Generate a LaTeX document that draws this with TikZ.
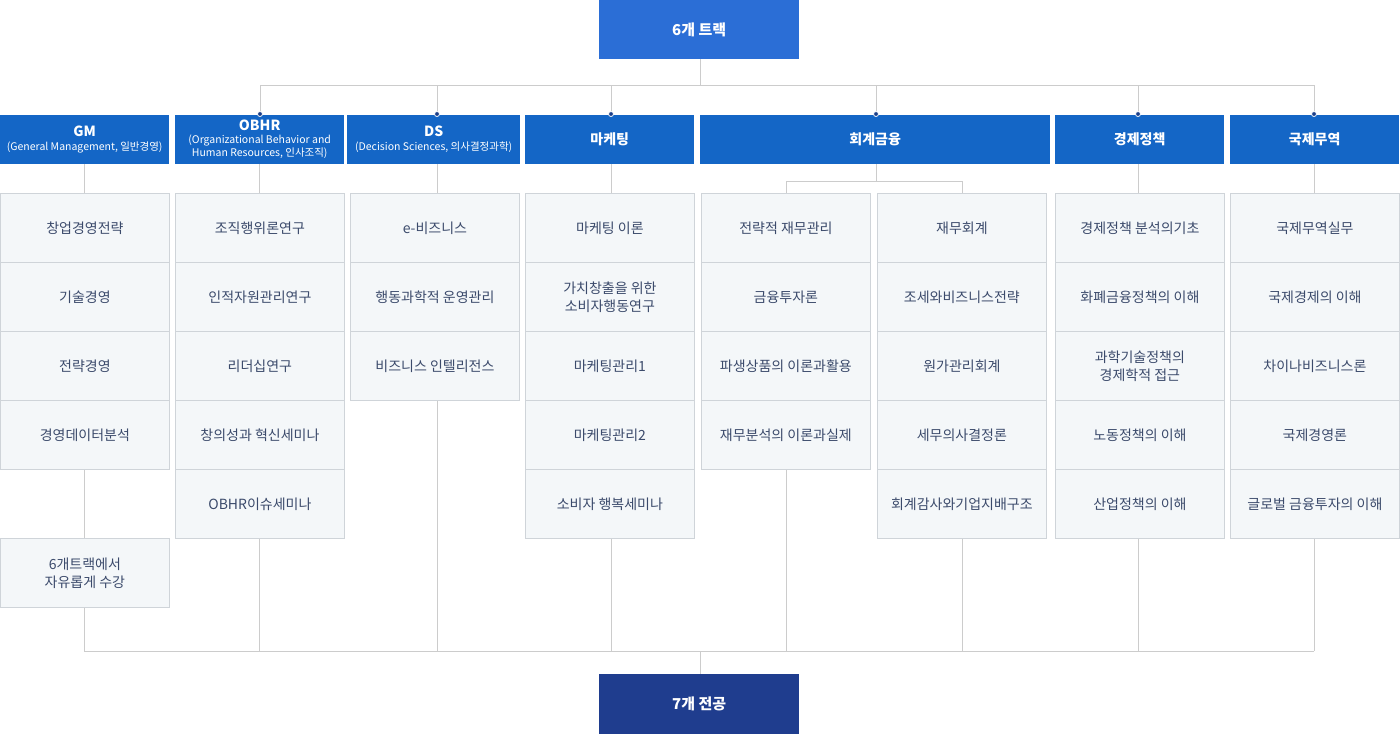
\documentclass[tikz,border=0pt]{standalone}
\usepackage{fontspec}
\setmainfont{Noto Sans CJK KR}
\definecolor{hdr}{HTML}{1466C6}
\definecolor{topb}{HTML}{2B6ED6}
\definecolor{botb}{HTML}{1F3D8E}
\definecolor{cellf}{HTML}{F4F7F9}
\definecolor{celld}{HTML}{CFD4D9}
\definecolor{ctext}{HTML}{3B4A6B}
\definecolor{lnc}{HTML}{CCCCCC}
\definecolor{dotc}{HTML}{1B3F8A}
\newcommand\hdrsub{\fontsize{10.5}{10.5}\selectfont\mdseries}
\begin{document}
\begin{tikzpicture}[x=1pt,y=-1pt,
  hdrbox/.style={fill=hdr,draw=none,text=white,anchor=north west,inner sep=0pt,align=center,font=\fontsize{14}{16}\selectfont\bfseries},
  cell/.style={fill=cellf,draw=celld,line width=0.8pt,anchor=north west,minimum width=169pt,minimum height=69pt,inner sep=0pt,text=ctext,align=center,font=\fontsize{14}{18}\selectfont},
  ln/.style={draw=lnc,line width=1pt},
  dot/.style={circle,fill=dotc,draw=white,line width=0.8pt,inner sep=0pt,minimum size=5pt}]
\useasboundingbox (0,0) rectangle (1400,734);
\fill[white] (0,0) rectangle (1400,734);
% connector lines first
\coordinate (tj) at (700,85);
\draw[ln] (700,59) -- (tj);
\draw[ln] (260,85) -- (1314,85);
\foreach \x in {260,437,611,876,1138,1314} \draw[ln] (\x,85) -- (\x,115);
\foreach \x in {84,259,437,611,1138,1314} \draw[ln] (\x,164) -- (\x,193);
\draw[ln] (876,164) -- (876,181) (786,181) -- (962,181) (786,181) -- (786,193) (962,181) -- (962,193);
\draw[ln] (84,469) -- (84,538);
\draw[ln] (84,607) -- (84,651);
\draw[ln] (259,538) -- (259,651);
\draw[ln] (437,400) -- (437,651);
\draw[ln] (611,538) -- (611,651);
\draw[ln] (786,469) -- (786,651);
\draw[ln] (962,538) -- (962,651);
\draw[ln] (1138,538) -- (1138,651);
\draw[ln] (1314,538) -- (1314,651);
\draw[ln] (84,651) -- (1314,651);
\draw[ln] (700,651) -- (700,674);
% top & bottom boxes
\node[fill=topb,text=white,anchor=north west,minimum width=200pt,minimum height=59pt,inner sep=0pt,font=\fontsize{15}{18}\selectfont\bfseries] (top) at (599,0) {6개 트랙};
\node[fill=botb,text=white,anchor=north west,minimum width=200pt,minimum height=60pt,inner sep=0pt,font=\fontsize{15}{18}\selectfont\bfseries] (bot) at (599,674) {7개 전공};
% headers
\node[hdrbox,minimum width=169pt,minimum height=49pt] (hGM) at (0,115) {GM\\[-2pt]{\hdrsub(General Management, 일반경영)}};
\node[hdrbox,minimum width=169pt,minimum height=49pt] (hOB) at (175,115) {OBHR\\[-3pt]{\hdrsub(Organizational Behavior and}\\[-3pt]{\hdrsub Human Resources, 인사조직)}};
\node[hdrbox,minimum width=173pt,minimum height=49pt] (hDS) at (347,115) {DS\\[-2pt]{\hdrsub(Decision Sciences, 의사결정과학)}};
\node[hdrbox,minimum width=169pt,minimum height=49pt] (hMK) at (525,115) {마케팅};
\node[hdrbox,minimum width=350pt,minimum height=49pt] (hAF) at (700,115) {회계금융};
\node[hdrbox,minimum width=169pt,minimum height=49pt] (hEP) at (1055,115) {경제정책};
\node[hdrbox,minimum width=169pt,minimum height=49pt] (hIT) at (1230,115) {국제무역};
\foreach \x/\n in {260/OB,437/DS,611/MK,876/AF,1138/EP,1314/IT} \node[dot] (d\n) at (\x,114) {};
% cells
\foreach \i/\t in {1/창업경영전략,2/기술경영,3/전략경영,4/경영데이터분석,6/{6개트랙에서\\자유롭게 수강}}
  \node[cell] (gm\i) at (0,{193+69*(\i-1)}) {\t};
\foreach \i/\t in {1/조직행위론연구,2/인적자원관리연구,3/리더십연구,4/창의성과 혁신세미나,5/OBHR이슈세미나}
  \node[cell] (ob\i) at (175,{193+69*(\i-1)}) {\t};
\foreach \i/\t in {1/e-비즈니스,2/행동과학적 운영관리,3/비즈니스 인텔리전스}
  \node[cell] (ds\i) at (350,{193+69*(\i-1)}) {\t};
\foreach \i/\t in {1/마케팅 이론,2/{가치창출을 위한\\소비자행동연구},3/마케팅관리1,4/마케팅관리2,5/소비자 행복세미나}
  \node[cell] (mk\i) at (525,{193+69*(\i-1)}) {\t};
\foreach \i/\t in {1/전략적 재무관리,2/금융투자론,3/파생상품의 이론과활용,4/재무분석의 이론과실제}
  \node[cell] (fa\i) at (701,{193+69*(\i-1)}) {\t};
\foreach \i/\t in {1/재무회계,2/조세와비즈니스전략,3/원가관리회계,4/세무의사결정론,5/회계감사와기업지배구조}
  \node[cell] (ac\i) at (877,{193+69*(\i-1)}) {\t};
\foreach \i/\t in {1/경제정책 분석의기초,2/화폐금융정책의 이해,3/{과학기술정책의\\경제학적 접근},4/노동정책의 이해,5/산업정책의 이해}
  \node[cell] (ep\i) at (1055,{193+69*(\i-1)}) {\t};
\foreach \i/\t in {1/국제무역실무,2/국제경제의 이해,3/차이나비즈니스론,4/국제경영론,5/글로벌 금융투자의 이해}
  \node[cell] (it\i) at (1230,{193+69*(\i-1)}) {\t};
\end{tikzpicture}
\end{document}
